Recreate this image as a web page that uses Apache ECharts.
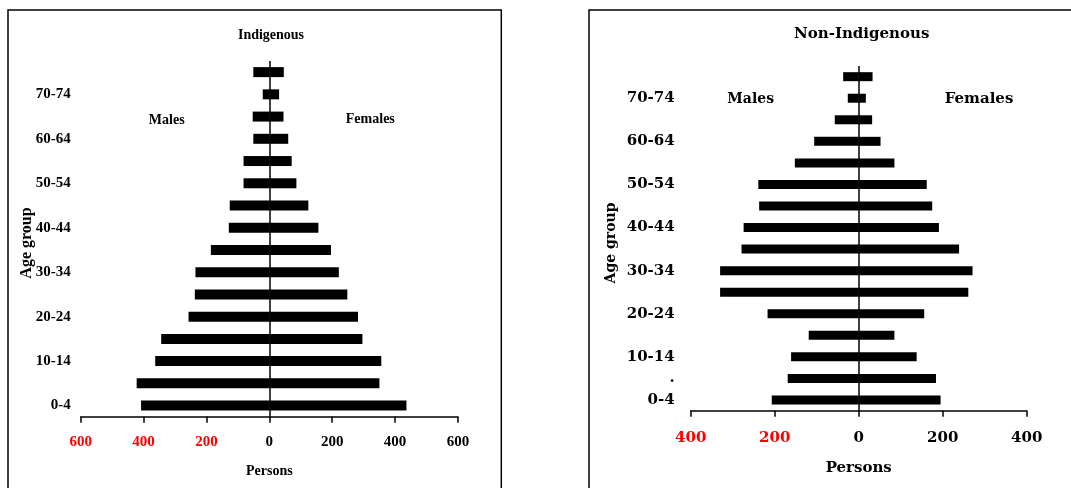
<!DOCTYPE html>
<html>
<head>
<meta charset="utf-8">
<script src="https://cdn.jsdelivr.net/npm/echarts@6/dist/echarts.min.js"></script>
<style>
html,body{margin:0;padding:0;background:#fff;}
#chart{width:1071px;height:488px;}
</style>
</head>
<body>
<div id="chart"></div>
<script>
// Age groups (bottom to top)
var ageGroups = ['0-4','5-9','10-14','15-19','20-24','25-29','30-34','35-39','40-44','45-49','50-54','55-59','60-64','65-69','70-74','75+'];
// Tick labels shown on the category axes
var leftTickLabels  = ['0-4','','10-14','','20-24','','30-34','','40-44','','50-54','','60-64','','70-74',''];
var rightTickLabels = ['0-4','.','10-14','','20-24','','30-34','','40-44','','50-54','','60-64','','70-74',''];
// Indigenous
var indigMales   = [408,422,363,344,257,237,235,186,129,126,82,82,51,53,21,51];
var indigFemales = [436,350,356,296,282,248,221,196,156,124,86,71,60,45,31,46];
// Non-Indigenous
var nonIndigMales   = [207,169,161,119,217,330,330,279,274,237,239,152,106,57,26,37];
var nonIndigFemales = [195,184,138,85,156,261,271,239,191,175,162,85,52,32,17,33];
// x-axis ranges
var leftMax = 600, leftStep = 200;
var rightMax = 400, rightStep = 200;

var fL = 'Liberation Serif';
var fR = 'DejaVu Serif';

function neg(a){ return a.map(function(v){ return -v; }); }

var chart = echarts.init(document.getElementById('chart'), null, {renderer:'canvas'});

function xAxisCfg(gi, max, step, font, fs, margin, nameGap, nameFs){
  return {
    type:'value', gridIndex: gi, min:-max, max:max, interval:step,
    name:'Persons', nameLocation:'middle', nameGap:nameGap,
    nameTextStyle:{fontFamily:font, fontWeight:'bold', fontSize:nameFs, color:'#000'},
    axisLine:{show:true, onZero:false, lineStyle:{color:'#000', width:1.5}},
    axisTick:{show:true, length:6, lineStyle:{color:'#000', width:1.5}},
    splitLine:{show:false},
    axisLabel:{
      fontFamily:font, fontWeight:'bold', fontSize:fs, margin:margin,
      formatter:function(v){ return String(Math.abs(v)); },
      color:function(v){ return Number(v) < 0 ? '#ff0000' : '#000000'; }
    }
  };
}
function yAxisCfg(gi, labels, font, fs, margin){
  return {
    type:'category', gridIndex:gi, data:ageGroups,
    axisLine:{show:false}, axisTick:{show:false}, splitLine:{show:false},
    axisLabel:{
      interval:0, margin:margin, fontFamily:font, fontWeight:'bold', fontSize:fs, color:'#000',
      formatter:function(v, i){ return labels[i]; }
    }
  };
}
function barSeries(xi, data, width, stack, withLine){
  var s = {
    type:'bar', xAxisIndex:xi, yAxisIndex:xi, data:data, stack:stack,
    barWidth:width, itemStyle:{color:'#000'}, silent:true, animation:false
  };
  if (withLine) {
    s.markLine = {
      silent:true, symbol:['none','none'], label:{show:false},
      lineStyle:{color:'#000', width:1.5, type:'solid'},
      data:[{xAxis:0}], animation:false
    };
  }
  return s;
}

function txt(x, y, text, font, fs, rot){
  return {
    type:'text', x:x, y:y, rotation: rot || 0, silent:true,
    style:{text:text, fontFamily:font, fontWeight:'bold', fontSize:fs, fill:'#000',
           align:'center', verticalAlign:'middle'}
  };
}

var option = {
  animation:false,
  backgroundColor:'#fff',
  grid:[
    {left:80.7, right:613, top:61, bottom:71.3},
    {left:690.7, right:44.3, top:65.9, bottom:77.3}
  ],
  xAxis:[
    xAxisCfg(0, leftMax, leftStep, fL, 15, 18, 48, 14),
    xAxisCfg(1, rightMax, rightStep, fR, 15, 20, 50, 15)
  ],
  yAxis:[
    yAxisCfg(0, leftTickLabels, fL, 15, 10),
    yAxisCfg(1, rightTickLabels, fR, 15, 16)
  ],
  series:[
    barSeries(0, neg(indigMales), 10, 'a', true),
    barSeries(0, indigFemales, 10, 'a', false),
    barSeries(1, neg(nonIndigMales), 9, 'b', true),
    barSeries(1, nonIndigFemales, 9, 'b', false)
  ],
  graphic:[
    {type:'rect', silent:true, shape:{x:8, y:10, width:493.3, height:500},
     style:{fill:'none', stroke:'#000', lineWidth:1.5}},
    {type:'rect', silent:true, shape:{x:589, y:10, width:500, height:500},
     style:{fill:'none', stroke:'#000', lineWidth:1.5}},
    txt(271, 35, 'Indigenous', fL, 14),
    txt(166.7, 120, 'Males', fL, 14),
    txt(370.3, 119, 'Females', fL, 14),
    txt(26.7, 243, 'Age group', fL, 16, Math.PI/2),
    txt(861.7, 34.3, 'Non-Indigenous', fR, 15),
    txt(750.7, 99, 'Males', fR, 14),
    txt(979, 99, 'Females', fR, 15),
    txt(611.7, 243, 'Age group', fR, 14, Math.PI/2)
  ]
};
chart.setOption(option);
</script>
</body>
</html>
